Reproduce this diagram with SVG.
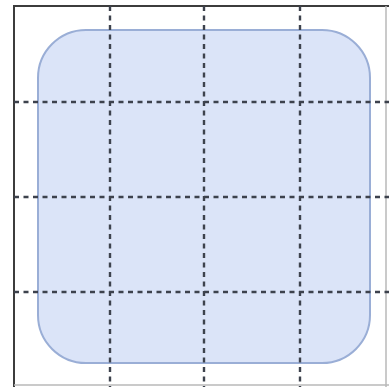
<svg xmlns="http://www.w3.org/2000/svg" width="389" height="387" viewBox="0 0 389 387">
<style>
.grid{stroke:#3d424d;stroke-width:2.4;stroke-dasharray:5 4.5;fill:none}
.frameDark{stroke:#3c3c3c;stroke-width:2;fill:none}
.frameLight{stroke:#b8b8b8;stroke-width:1.5;fill:none}
</style>
<rect width="389" height="387" fill="#ffffff"/>
<g id="frame">
<line class="frameDark" x1="14" y1="6" x2="389" y2="6"/>
<line class="frameDark" x1="14" y1="5" x2="14" y2="387"/>
<line class="frameLight" x1="386" y1="6" x2="386" y2="387"/>
<line class="frameLight" x1="14" y1="385" x2="389" y2="385"/>
</g>
<g id="area">
<rect x="38" y="30" width="332" height="333" rx="48" ry="48" fill="#dbe4f8" stroke="#9aaed6" stroke-width="2"/>
</g>
<g id="grid">
<line class="grid" x1="110" y1="6" x2="110" y2="387"/>
<line class="grid" x1="204" y1="6" x2="204" y2="387"/>
<line class="grid" x1="300" y1="6" x2="300" y2="387"/>
<line class="grid" x1="14" y1="102" x2="389" y2="102"/>
<line class="grid" x1="14" y1="197" x2="389" y2="197"/>
<line class="grid" x1="14" y1="292" x2="389" y2="292"/>
</g>
</svg>
